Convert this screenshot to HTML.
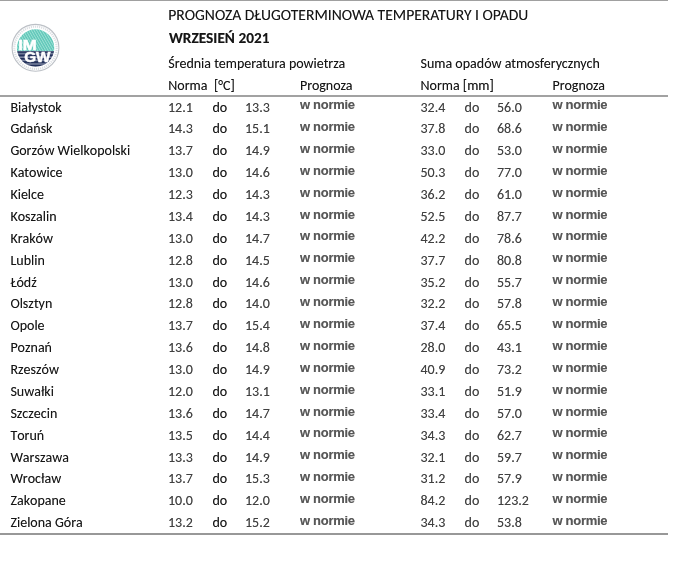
<!DOCTYPE html>
<html lang="pl"><head><meta charset="utf-8"><title>Prognoza długoterminowa - wrzesień 2021</title>
<style>
html,body{margin:0;padding:0;background:#fff;}
body{width:700px;height:570px;overflow:hidden;position:relative;}
div.c,div.n,div.d,div.w,div.h1{position:absolute;white-space:nowrap;line-height:0;height:0;font-kerning:none;text-shadow:0 0 0.6px rgba(0,0,0,0.35);}
.c,.n,.d,.h1{font-family:Carlito,"Liberation Sans",sans-serif;font-size:14px;}
.c{color:#151515;}
.d{color:#151515;}
.n{color:#404040;}
div.h1{text-rendering:geometricPrecision;font-kerning:normal;font-size:15.6px;color:#151515;}
div.b{font-weight:bold;font-size:15.3px;}
div.k{font-kerning:normal;}
.w{font-family:"Liberation Sans",Arial,sans-serif;font-weight:bold;font-size:13px;letter-spacing:-0.3px;color:#585858;}
.ln{position:absolute;left:0;width:668px;}
</style></head><body>
<div class="ln" style="top:0;height:1px;background:#a0a0a0"></div>
<div class="ln" style="top:95px;height:2px;background:#a2a2a2"></div>
<div class="ln" style="top:533px;height:2px;background:#989898"></div>
<svg style="position:absolute;left:0;top:0" width="80" height="90" viewBox="0 0 80 90">
<defs>
<clipPath id="cp"><circle cx="35.6" cy="48" r="18.7"/></clipPath>
<pattern id="pd" patternUnits="userSpaceOnUse" width="2.3" height="3" patternTransform="rotate(-30)"><rect width="2.3" height="3" fill="#5cc6b6"/><rect width="1" height="3" fill="#9ee0d6"/></pattern>
<pattern id="ph" patternUnits="userSpaceOnUse" width="6" height="3.4" y="51"><rect width="6" height="3.4" fill="#22305a"/><rect y="2.1" width="6" height="1.3" fill="#8b94ad"/></pattern>
</defs>
<circle cx="35.5" cy="47.8" r="23.4" fill="#fff" stroke="#bcc0c6" stroke-width="1.1"/>
<circle cx="35.5" cy="47.8" r="21.2" fill="none" stroke="#dcdfe3" stroke-width="2.2" stroke-dasharray="1.2 0.9"/>
<g clip-path="url(#cp)">
<rect x="15" y="28" width="42" height="23.2" fill="url(#pd)"/>
<rect x="15" y="51.2" width="42" height="17" fill="url(#ph)"/>
</g>
<g font-family="Liberation Sans,Arial,sans-serif" font-weight="bold" fill="#fff" stroke="#fff" stroke-width="0.5">
<text x="18.2" y="49.9" font-size="14.6" textLength="18.6" lengthAdjust="spacingAndGlyphs">IM</text>
<text x="24.2" y="62" font-size="14.6" textLength="26.2" lengthAdjust="spacingAndGlyphs">GW</text>
</g>
</svg>

<div class="h1" style="left:168.30px;top:16.30px">PROGNOZA DŁUGOTERMINOWA TEMPERATURY I OPADU</div>
<div class="h1 b" style="left:169.00px;top:39.00px">WRZESIEŃ 2021</div>
<div class="c k" style="left:168.30px;top:64.00px">Średnia temperatura powietrza</div>
<div class="c k" style="left:420.50px;top:64.00px">Suma opadów atmosferycznych</div>
<div class="c k" style="left:168.30px;top:86.00px">Norma</div>
<div class="c k" style="left:214.00px;top:86.00px">[°C]</div>
<div class="c k" style="left:300.00px;top:86.00px">Prognoza</div>
<div class="c k" style="left:420.50px;top:86.00px">Norma [mm]</div>
<div class="c k" style="left:552.60px;top:86.00px">Prognoza</div>
<div class="c" style="left:10.40px;top:107.50px">Białystok</div>
<div class="n" style="left:168.00px;top:107.50px">12.1</div>
<div class="d" style="left:212.50px;top:107.50px">do</div>
<div class="n" style="left:245.00px;top:107.50px">13.3</div>
<div class="w" style="left:300.00px;top:105.20px">w normie</div>
<div class="n" style="left:420.50px;top:107.50px">32.4</div>
<div class="n" style="left:464.60px;top:107.50px">do</div>
<div class="n" style="left:497.00px;top:107.50px">56.0</div>
<div class="w" style="left:552.50px;top:105.20px">w normie</div>
<div class="c" style="left:10.40px;top:129.38px">Gdańsk</div>
<div class="n" style="left:168.00px;top:129.38px">14.3</div>
<div class="d" style="left:212.50px;top:129.38px">do</div>
<div class="n" style="left:245.00px;top:129.38px">15.1</div>
<div class="w" style="left:300.00px;top:127.08px">w normie</div>
<div class="n" style="left:420.50px;top:129.38px">37.8</div>
<div class="n" style="left:464.60px;top:129.38px">do</div>
<div class="n" style="left:497.00px;top:129.38px">68.6</div>
<div class="w" style="left:552.50px;top:127.08px">w normie</div>
<div class="c" style="left:10.40px;top:151.26px">Gorzów Wielkopolski</div>
<div class="n" style="left:168.00px;top:151.26px">13.7</div>
<div class="d" style="left:212.50px;top:151.26px">do</div>
<div class="n" style="left:245.00px;top:151.26px">14.9</div>
<div class="w" style="left:300.00px;top:148.96px">w normie</div>
<div class="n" style="left:420.50px;top:151.26px">33.0</div>
<div class="n" style="left:464.60px;top:151.26px">do</div>
<div class="n" style="left:497.00px;top:151.26px">53.0</div>
<div class="w" style="left:552.50px;top:148.96px">w normie</div>
<div class="c" style="left:10.40px;top:173.14px">Katowice</div>
<div class="n" style="left:168.00px;top:173.14px">13.0</div>
<div class="d" style="left:212.50px;top:173.14px">do</div>
<div class="n" style="left:245.00px;top:173.14px">14.6</div>
<div class="w" style="left:300.00px;top:170.84px">w normie</div>
<div class="n" style="left:420.50px;top:173.14px">50.3</div>
<div class="n" style="left:464.60px;top:173.14px">do</div>
<div class="n" style="left:497.00px;top:173.14px">77.0</div>
<div class="w" style="left:552.50px;top:170.84px">w normie</div>
<div class="c" style="left:10.40px;top:195.02px">Kielce</div>
<div class="n" style="left:168.00px;top:195.02px">12.3</div>
<div class="d" style="left:212.50px;top:195.02px">do</div>
<div class="n" style="left:245.00px;top:195.02px">14.3</div>
<div class="w" style="left:300.00px;top:192.72px">w normie</div>
<div class="n" style="left:420.50px;top:195.02px">36.2</div>
<div class="n" style="left:464.60px;top:195.02px">do</div>
<div class="n" style="left:497.00px;top:195.02px">61.0</div>
<div class="w" style="left:552.50px;top:192.72px">w normie</div>
<div class="c" style="left:10.40px;top:216.90px">Koszalin</div>
<div class="n" style="left:168.00px;top:216.90px">13.4</div>
<div class="d" style="left:212.50px;top:216.90px">do</div>
<div class="n" style="left:245.00px;top:216.90px">14.3</div>
<div class="w" style="left:300.00px;top:214.60px">w normie</div>
<div class="n" style="left:420.50px;top:216.90px">52.5</div>
<div class="n" style="left:464.60px;top:216.90px">do</div>
<div class="n" style="left:497.00px;top:216.90px">87.7</div>
<div class="w" style="left:552.50px;top:214.60px">w normie</div>
<div class="c" style="left:10.40px;top:238.78px">Kraków</div>
<div class="n" style="left:168.00px;top:238.78px">13.0</div>
<div class="d" style="left:212.50px;top:238.78px">do</div>
<div class="n" style="left:245.00px;top:238.78px">14.7</div>
<div class="w" style="left:300.00px;top:236.48px">w normie</div>
<div class="n" style="left:420.50px;top:238.78px">42.2</div>
<div class="n" style="left:464.60px;top:238.78px">do</div>
<div class="n" style="left:497.00px;top:238.78px">78.6</div>
<div class="w" style="left:552.50px;top:236.48px">w normie</div>
<div class="c" style="left:10.40px;top:260.66px">Lublin</div>
<div class="n" style="left:168.00px;top:260.66px">12.8</div>
<div class="d" style="left:212.50px;top:260.66px">do</div>
<div class="n" style="left:245.00px;top:260.66px">14.5</div>
<div class="w" style="left:300.00px;top:258.36px">w normie</div>
<div class="n" style="left:420.50px;top:260.66px">37.7</div>
<div class="n" style="left:464.60px;top:260.66px">do</div>
<div class="n" style="left:497.00px;top:260.66px">80.8</div>
<div class="w" style="left:552.50px;top:258.36px">w normie</div>
<div class="c" style="left:10.40px;top:282.54px">Łódź</div>
<div class="n" style="left:168.00px;top:282.54px">13.0</div>
<div class="d" style="left:212.50px;top:282.54px">do</div>
<div class="n" style="left:245.00px;top:282.54px">14.6</div>
<div class="w" style="left:300.00px;top:280.24px">w normie</div>
<div class="n" style="left:420.50px;top:282.54px">35.2</div>
<div class="n" style="left:464.60px;top:282.54px">do</div>
<div class="n" style="left:497.00px;top:282.54px">55.7</div>
<div class="w" style="left:552.50px;top:280.24px">w normie</div>
<div class="c" style="left:10.40px;top:304.42px">Olsztyn</div>
<div class="n" style="left:168.00px;top:304.42px">12.8</div>
<div class="d" style="left:212.50px;top:304.42px">do</div>
<div class="n" style="left:245.00px;top:304.42px">14.0</div>
<div class="w" style="left:300.00px;top:302.12px">w normie</div>
<div class="n" style="left:420.50px;top:304.42px">32.2</div>
<div class="n" style="left:464.60px;top:304.42px">do</div>
<div class="n" style="left:497.00px;top:304.42px">57.8</div>
<div class="w" style="left:552.50px;top:302.12px">w normie</div>
<div class="c" style="left:10.40px;top:326.30px">Opole</div>
<div class="n" style="left:168.00px;top:326.30px">13.7</div>
<div class="d" style="left:212.50px;top:326.30px">do</div>
<div class="n" style="left:245.00px;top:326.30px">15.4</div>
<div class="w" style="left:300.00px;top:324.00px">w normie</div>
<div class="n" style="left:420.50px;top:326.30px">37.4</div>
<div class="n" style="left:464.60px;top:326.30px">do</div>
<div class="n" style="left:497.00px;top:326.30px">65.5</div>
<div class="w" style="left:552.50px;top:324.00px">w normie</div>
<div class="c" style="left:10.40px;top:348.18px">Poznań</div>
<div class="n" style="left:168.00px;top:348.18px">13.6</div>
<div class="d" style="left:212.50px;top:348.18px">do</div>
<div class="n" style="left:245.00px;top:348.18px">14.8</div>
<div class="w" style="left:300.00px;top:345.88px">w normie</div>
<div class="n" style="left:420.50px;top:348.18px">28.0</div>
<div class="n" style="left:464.60px;top:348.18px">do</div>
<div class="n" style="left:497.00px;top:348.18px">43.1</div>
<div class="w" style="left:552.50px;top:345.88px">w normie</div>
<div class="c" style="left:10.40px;top:370.06px">Rzeszów</div>
<div class="n" style="left:168.00px;top:370.06px">13.0</div>
<div class="d" style="left:212.50px;top:370.06px">do</div>
<div class="n" style="left:245.00px;top:370.06px">14.9</div>
<div class="w" style="left:300.00px;top:367.76px">w normie</div>
<div class="n" style="left:420.50px;top:370.06px">40.9</div>
<div class="n" style="left:464.60px;top:370.06px">do</div>
<div class="n" style="left:497.00px;top:370.06px">73.2</div>
<div class="w" style="left:552.50px;top:367.76px">w normie</div>
<div class="c" style="left:10.40px;top:391.94px">Suwałki</div>
<div class="n" style="left:168.00px;top:391.94px">12.0</div>
<div class="d" style="left:212.50px;top:391.94px">do</div>
<div class="n" style="left:245.00px;top:391.94px">13.1</div>
<div class="w" style="left:300.00px;top:389.64px">w normie</div>
<div class="n" style="left:420.50px;top:391.94px">33.1</div>
<div class="n" style="left:464.60px;top:391.94px">do</div>
<div class="n" style="left:497.00px;top:391.94px">51.9</div>
<div class="w" style="left:552.50px;top:389.64px">w normie</div>
<div class="c" style="left:10.40px;top:413.82px">Szczecin</div>
<div class="n" style="left:168.00px;top:413.82px">13.6</div>
<div class="d" style="left:212.50px;top:413.82px">do</div>
<div class="n" style="left:245.00px;top:413.82px">14.7</div>
<div class="w" style="left:300.00px;top:411.52px">w normie</div>
<div class="n" style="left:420.50px;top:413.82px">33.4</div>
<div class="n" style="left:464.60px;top:413.82px">do</div>
<div class="n" style="left:497.00px;top:413.82px">57.0</div>
<div class="w" style="left:552.50px;top:411.52px">w normie</div>
<div class="c" style="left:10.40px;top:435.70px">Toruń</div>
<div class="n" style="left:168.00px;top:435.70px">13.5</div>
<div class="d" style="left:212.50px;top:435.70px">do</div>
<div class="n" style="left:245.00px;top:435.70px">14.4</div>
<div class="w" style="left:300.00px;top:433.40px">w normie</div>
<div class="n" style="left:420.50px;top:435.70px">34.3</div>
<div class="n" style="left:464.60px;top:435.70px">do</div>
<div class="n" style="left:497.00px;top:435.70px">62.7</div>
<div class="w" style="left:552.50px;top:433.40px">w normie</div>
<div class="c" style="left:10.40px;top:457.58px">Warszawa</div>
<div class="n" style="left:168.00px;top:457.58px">13.3</div>
<div class="d" style="left:212.50px;top:457.58px">do</div>
<div class="n" style="left:245.00px;top:457.58px">14.9</div>
<div class="w" style="left:300.00px;top:455.28px">w normie</div>
<div class="n" style="left:420.50px;top:457.58px">32.1</div>
<div class="n" style="left:464.60px;top:457.58px">do</div>
<div class="n" style="left:497.00px;top:457.58px">59.7</div>
<div class="w" style="left:552.50px;top:455.28px">w normie</div>
<div class="c" style="left:10.40px;top:479.46px">Wrocław</div>
<div class="n" style="left:168.00px;top:479.46px">13.7</div>
<div class="d" style="left:212.50px;top:479.46px">do</div>
<div class="n" style="left:245.00px;top:479.46px">15.3</div>
<div class="w" style="left:300.00px;top:477.16px">w normie</div>
<div class="n" style="left:420.50px;top:479.46px">31.2</div>
<div class="n" style="left:464.60px;top:479.46px">do</div>
<div class="n" style="left:497.00px;top:479.46px">57.9</div>
<div class="w" style="left:552.50px;top:477.16px">w normie</div>
<div class="c" style="left:10.40px;top:501.34px">Zakopane</div>
<div class="n" style="left:168.00px;top:501.34px">10.0</div>
<div class="d" style="left:212.50px;top:501.34px">do</div>
<div class="n" style="left:245.00px;top:501.34px">12.0</div>
<div class="w" style="left:300.00px;top:499.04px">w normie</div>
<div class="n" style="left:420.50px;top:501.34px">84.2</div>
<div class="n" style="left:464.60px;top:501.34px">do</div>
<div class="n" style="left:497.00px;top:501.34px">123.2</div>
<div class="w" style="left:552.50px;top:499.04px">w normie</div>
<div class="c" style="left:10.40px;top:523.22px">Zielona Góra</div>
<div class="n" style="left:168.00px;top:523.22px">13.2</div>
<div class="d" style="left:212.50px;top:523.22px">do</div>
<div class="n" style="left:245.00px;top:523.22px">15.2</div>
<div class="w" style="left:300.00px;top:520.92px">w normie</div>
<div class="n" style="left:420.50px;top:523.22px">34.3</div>
<div class="n" style="left:464.60px;top:523.22px">do</div>
<div class="n" style="left:497.00px;top:523.22px">53.8</div>
<div class="w" style="left:552.50px;top:520.92px">w normie</div>
</body></html>
